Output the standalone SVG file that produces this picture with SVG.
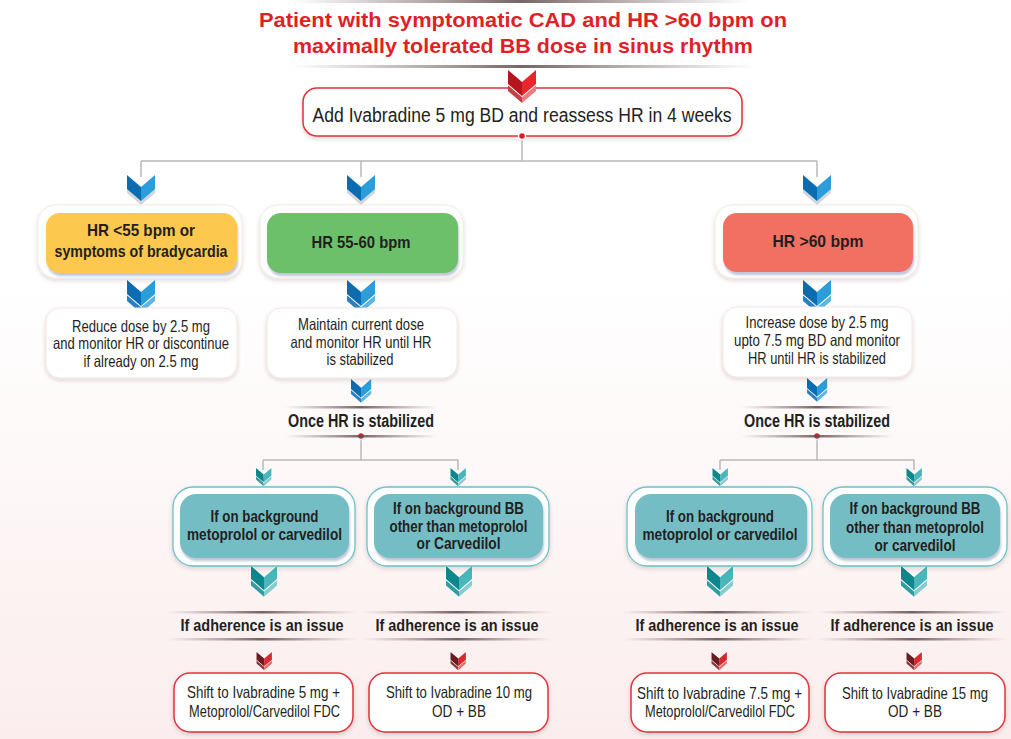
<svg xmlns="http://www.w3.org/2000/svg" width="1011" height="739" viewBox="0 0 1011 739">
<defs>
<linearGradient id="bg" x1="0" y1="0" x2="0" y2="1">
<stop offset="0" stop-color="#ffffff"/>
<stop offset="0.38" stop-color="#ffffff"/>
<stop offset="1" stop-color="#fbeded"/>
</linearGradient>
<linearGradient id="sl" x1="0" y1="0" x2="1" y2="0">
<stop offset="0" stop-color="#7a6262" stop-opacity="0"/>
<stop offset="0.5" stop-color="#5e4a4a" stop-opacity="0.85"/>
<stop offset="1" stop-color="#7a6262" stop-opacity="0"/>
</linearGradient>
<filter id="sh" x="-10%" y="-20%" width="120%" height="150%">
<feDropShadow dx="0" dy="2" stdDeviation="2" flood-color="#602020" flood-opacity="0.18"/>
</filter>
<filter id="sh2" x="-10%" y="-20%" width="120%" height="150%">
<feDropShadow dx="1" dy="3" stdDeviation="1" flood-color="#8a96b8" flood-opacity="0.55"/>
</filter>
<path id="cl" d="M0 0 L14 12 L14 26 L0 14 Z"/>
<path id="cr" d="M14 12 L28 0 L28 14 L14 26 Z"/>
<path id="cf" d="M0 0 L14 12 L28 0 L28 14 L14 26 L0 14 Z"/>
<g id="blue1">
<use href="#cf" y="4" fill="#d3d6dc"/>
<use href="#cl" fill="#0b6cb2"/>
<use href="#cr" fill="#2b9ddb"/>
</g>
<g id="blue2">
<use href="#cl" y="7" fill="#2a7fc2"/>
<use href="#cr" y="7" fill="#5db6e6"/>
<use href="#cf" fill="none" stroke="#fff" stroke-width="2"/>
<use href="#cl" fill="#0b6cb2"/>
<use href="#cr" fill="#2b9ddb"/>
</g>
<g id="red2">
<use href="#cl" y="7" fill="#c84046"/>
<use href="#cr" y="7" fill="#f07a7e"/>
<use href="#cf" fill="none" stroke="#fff" stroke-width="2"/>
<use href="#cl" fill="#b5161d"/>
<use href="#cr" fill="#e8262c"/>
</g>
<g id="teal2">
<use href="#cl" y="7" fill="#2f9ea3"/>
<use href="#cr" y="7" fill="#84ccd0"/>
<use href="#cf" fill="none" stroke="#fff" stroke-width="2"/>
<use href="#cl" fill="#0e878c"/>
<use href="#cr" fill="#4ab6ba"/>
</g>
<g id="dred2">
<use href="#cl" y="7" fill="#8a3a3e"/>
<use href="#cr" y="7" fill="#e86a6e"/>
<use href="#cf" fill="none" stroke="#fff" stroke-width="2"/>
<use href="#cl" fill="#6b1a1f"/>
<use href="#cr" fill="#d6282e"/>
</g>
</defs>
<style>
text{font-family:"Liberation Sans Narrow","Liberation Sans",Arial,sans-serif;fill:#231f20;text-anchor:middle}
.t{font-size:16.5px}
.b{font-size:17px;font-weight:bold}
.bl{font-size:18px;font-weight:bold}
.ti{font-size:21px;font-weight:bold;fill:#e11f26}
.top{font-size:20px}
.halo{fill:#fff;stroke:#f1ece2;stroke-width:1}
.wbox{fill:#fff;stroke:#f3e6e6;stroke-width:1}
.thalo{fill:#fff;stroke:#6cc0c8;stroke-width:1.3}
.teal{fill:#75bdc4}
.rbox{fill:#fff;stroke:#e2323c;stroke-width:1.5}
.conn line{stroke:#b8b8b8;stroke-width:1.5}
.dot{fill:#d7202c;stroke:#fff;stroke-width:1.5}
.sl{fill:url(#sl)}
</style>
<rect x="0" y="0" width="1011" height="739" fill="url(#bg)"/>

<g id="title">
<rect class="sl" x="290" y="0" width="460" height="3"/>
<text class="ti" x="523" y="27" textLength="528" lengthAdjust="spacingAndGlyphs">Patient with symptomatic CAD and HR &gt;60 bpm on</text>
<text class="ti" x="523" y="53" textLength="460" lengthAdjust="spacingAndGlyphs">maximally tolerated BB dose in sinus rhythm</text>
<rect class="sl" x="290" y="65" width="465" height="3"/>
</g>

<g id="n-start">
<rect class="rbox" x="303" y="88" width="439" height="48" rx="14" filter="url(#sh)"/>
<text class="top" x="522" y="122" textLength="419" lengthAdjust="spacingAndGlyphs">Add Ivabradine 5 mg BD and reassess HR in 4 weeks</text>
</g>

<g id="connectors" class="conn">
<line x1="522" y1="136" x2="522" y2="161"/>
<line x1="141" y1="161" x2="817" y2="161"/>
<line x1="141" y1="161" x2="141" y2="177"/>
<line x1="361" y1="161" x2="361" y2="177"/>
<line x1="817" y1="161" x2="817" y2="177"/>
<line x1="361" y1="436" x2="361" y2="460"/>
<line x1="263" y1="460" x2="458" y2="460"/>
<line x1="263" y1="460" x2="263" y2="470"/>
<line x1="458" y1="460" x2="458" y2="470"/>
<line x1="817" y1="436" x2="817" y2="460"/>
<line x1="720" y1="460" x2="914" y2="460"/>
<line x1="720" y1="460" x2="720" y2="470"/>
<line x1="914" y1="460" x2="914" y2="470"/>
<circle class="dot" cx="522" cy="136" r="3.5"/>
<circle class="dot" cx="361" cy="436" r="3.5"/>
<circle class="dot" cx="817" cy="436" r="3.5"/>
<use href="#red2" transform="translate(508,70)"/>
<use href="#blue1" transform="translate(127,175)"/>
<use href="#blue1" transform="translate(347,175)"/>
<use href="#blue1" transform="translate(803,175)"/>
<use href="#blue2" transform="translate(127,280)"/>
<use href="#blue2" transform="translate(347,280)"/>
<use href="#blue2" transform="translate(803,280)"/>
<use href="#blue2" transform="translate(351,379) scale(0.72)"/>
<use href="#blue2" transform="translate(807,378) scale(0.72)"/>
<use href="#teal2" transform="translate(256,468) scale(0.55)"/>
<use href="#teal2" transform="translate(450.5,468) scale(0.55)"/>
<use href="#teal2" transform="translate(712.5,468) scale(0.55)"/>
<use href="#teal2" transform="translate(906.5,468) scale(0.55)"/>
<use href="#teal2" transform="translate(251,566) scale(0.93)"/>
<use href="#teal2" transform="translate(446,566) scale(0.93)"/>
<use href="#teal2" transform="translate(707,566) scale(0.93)"/>
<use href="#teal2" transform="translate(901,566) scale(0.93)"/>
<use href="#dred2" transform="translate(256.5,652) scale(0.55)"/>
<use href="#dred2" transform="translate(450.5,652) scale(0.55)"/>
<use href="#dred2" transform="translate(711.5,652) scale(0.55)"/>
<use href="#dred2" transform="translate(906.5,652) scale(0.55)"/>
</g>

<g id="n-low">
<rect class="halo" x="38" y="205" width="204" height="73" rx="18" filter="url(#sh)"/>
<rect x="46" y="213" width="191" height="60" rx="14" fill="#fcc84e" filter="url(#sh2)"/>
<text class="b" x="141" y="236" textLength="108" lengthAdjust="spacingAndGlyphs">HR &lt;55 bpm or</text>
<text class="b" x="141" y="257" textLength="173" lengthAdjust="spacingAndGlyphs">symptoms of bradycardia</text>
</g>
<g id="n-mid">
<rect class="halo" x="260" y="205" width="203" height="73" rx="18" filter="url(#sh)"/>
<rect x="267" y="213" width="191" height="60" rx="14" fill="#6cc06a" filter="url(#sh2)"/>
<text class="b" x="361" y="248" textLength="99" lengthAdjust="spacingAndGlyphs">HR 55-60 bpm</text>
</g>
<g id="n-high">
<rect class="halo" x="715" y="205" width="203" height="73" rx="18" filter="url(#sh)"/>
<rect x="723" y="213" width="190" height="59" rx="14" fill="#f27062" filter="url(#sh2)"/>
<text class="b" x="818" y="247" textLength="91" lengthAdjust="spacingAndGlyphs">HR &gt;60 bpm</text>
</g>

<g id="n-reduce">
<rect class="wbox" x="46" y="308" width="191" height="70" rx="14" filter="url(#sh)"/>
<text class="t" x="141" y="332" textLength="138" lengthAdjust="spacingAndGlyphs">Reduce dose by 2.5 mg</text>
<text class="t" x="141" y="349" textLength="176" lengthAdjust="spacingAndGlyphs">and monitor HR or discontinue</text>
<text class="t" x="141" y="367" textLength="115" lengthAdjust="spacingAndGlyphs">if already on 2.5 mg</text>
</g>
<g id="n-maintain">
<rect class="wbox" x="267" y="308" width="190" height="70" rx="14" filter="url(#sh)"/>
<text class="t" x="361" y="330" textLength="126" lengthAdjust="spacingAndGlyphs">Maintain current dose</text>
<text class="t" x="361" y="348" textLength="141" lengthAdjust="spacingAndGlyphs">and monitor HR until HR</text>
<text class="t" x="360" y="365" textLength="67" lengthAdjust="spacingAndGlyphs">is stabilized</text>
</g>
<g id="n-increase">
<rect class="wbox" x="723" y="307" width="189" height="70" rx="14" filter="url(#sh)"/>
<text class="t" x="817" y="328" textLength="143" lengthAdjust="spacingAndGlyphs">Increase dose by 2.5 mg</text>
<text class="t" x="817" y="346" textLength="166" lengthAdjust="spacingAndGlyphs">upto 7.5 mg BD and monitor</text>
<text class="t" x="817" y="364" textLength="138" lengthAdjust="spacingAndGlyphs">HR until HR is stabilized</text>
</g>

<g id="n-stab-l">
<rect class="sl" x="285" y="406" width="152" height="2.5"/>
<text class="bl" x="361" y="427" textLength="146" lengthAdjust="spacingAndGlyphs">Once HR is stabilized</text>
<rect class="sl" x="285" y="435" width="152" height="2.5"/>
</g>
<g id="n-stab-r">
<rect class="sl" x="741" y="406" width="152" height="2.5"/>
<text class="bl" x="817" y="427" textLength="146" lengthAdjust="spacingAndGlyphs">Once HR is stabilized</text>
<rect class="sl" x="741" y="435" width="152" height="2.5"/>
</g>

<g id="n-bg1">
<rect class="thalo" x="173" y="487" width="182" height="79" rx="20" filter="url(#sh)"/>
<rect class="teal" x="180" y="494" width="169" height="64" rx="16" filter="url(#sh2)"/>
<text class="b" x="264.5" y="522" textLength="108" lengthAdjust="spacingAndGlyphs">If on background</text>
<text class="b" x="264.5" y="540" textLength="155" lengthAdjust="spacingAndGlyphs">metoprolol or carvedilol</text>
</g>
<g id="n-bg2">
<rect class="thalo" x="367" y="487" width="182" height="79" rx="20" filter="url(#sh)"/>
<rect class="teal" x="374" y="494" width="169" height="64" rx="16" filter="url(#sh2)"/>
<text class="b" x="458.5" y="514" textLength="131" lengthAdjust="spacingAndGlyphs">If on background BB</text>
<text class="b" x="458.5" y="532" textLength="138" lengthAdjust="spacingAndGlyphs">other than metoprolol</text>
<text class="b" x="458.5" y="549" textLength="84" lengthAdjust="spacingAndGlyphs">or Carvedilol</text>
</g>
<g id="n-bg3">
<rect class="thalo" x="627" y="487" width="185" height="79" rx="20" filter="url(#sh)"/>
<rect class="teal" x="635" y="494" width="172" height="64" rx="16" filter="url(#sh2)"/>
<text class="b" x="720" y="522" textLength="108" lengthAdjust="spacingAndGlyphs">If on background</text>
<text class="b" x="720" y="540" textLength="155" lengthAdjust="spacingAndGlyphs">metoprolol or carvedilol</text>
</g>
<g id="n-bg4">
<rect class="thalo" x="823" y="487" width="184" height="79" rx="20" filter="url(#sh)"/>
<rect class="teal" x="830" y="494" width="170" height="64" rx="16" filter="url(#sh2)"/>
<text class="b" x="915" y="514" textLength="131" lengthAdjust="spacingAndGlyphs">If on background BB</text>
<text class="b" x="915" y="533" textLength="138" lengthAdjust="spacingAndGlyphs">other than metoprolol</text>
<text class="b" x="915" y="551" textLength="81" lengthAdjust="spacingAndGlyphs">or carvedilol</text>
</g>

<g id="n-adh1">
<rect class="sl" x="167" y="611" width="190" height="2.5"/>
<text class="b" x="262" y="631" textLength="163" lengthAdjust="spacingAndGlyphs">If adherence is an issue</text>
<rect class="sl" x="167" y="638" width="190" height="2.5"/>
</g>
<g id="n-adh2">
<rect class="sl" x="362" y="611" width="190" height="2.5"/>
<text class="b" x="457" y="631" textLength="163" lengthAdjust="spacingAndGlyphs">If adherence is an issue</text>
<rect class="sl" x="362" y="638" width="190" height="2.5"/>
</g>
<g id="n-adh3">
<rect class="sl" x="622" y="611" width="190" height="2.5"/>
<text class="b" x="717" y="631" textLength="163" lengthAdjust="spacingAndGlyphs">If adherence is an issue</text>
<rect class="sl" x="622" y="638" width="190" height="2.5"/>
</g>
<g id="n-adh4">
<rect class="sl" x="817" y="611" width="190" height="2.5"/>
<text class="b" x="912" y="631" textLength="163" lengthAdjust="spacingAndGlyphs">If adherence is an issue</text>
<rect class="sl" x="817" y="638" width="190" height="2.5"/>
</g>

<g id="n-shift1">
<rect class="rbox" x="174" y="673" width="179" height="59" rx="16" filter="url(#sh)"/>
<text class="t" x="263.5" y="698" textLength="153" lengthAdjust="spacingAndGlyphs">Shift to Ivabradine 5 mg +</text>
<text class="t" x="264.5" y="717" textLength="151" lengthAdjust="spacingAndGlyphs">Metoprolol/Carvedilol FDC</text>
</g>
<g id="n-shift2">
<rect class="rbox" x="369" y="673" width="179" height="59" rx="16" filter="url(#sh)"/>
<text class="t" x="459" y="698" textLength="146" lengthAdjust="spacingAndGlyphs">Shift to Ivabradine 10 mg</text>
<text class="t" x="459" y="717" textLength="54" lengthAdjust="spacingAndGlyphs">OD + BB</text>
</g>
<g id="n-shift3">
<rect class="rbox" x="631" y="673" width="178" height="59" rx="16" filter="url(#sh)"/>
<text class="t" x="719.5" y="699" textLength="165" lengthAdjust="spacingAndGlyphs">Shift to Ivabradine 7.5 mg +</text>
<text class="t" x="720" y="717" textLength="150" lengthAdjust="spacingAndGlyphs">Metoprolol/Carvedilol FDC</text>
</g>
<g id="n-shift4">
<rect class="rbox" x="825" y="673" width="180" height="59" rx="16" filter="url(#sh)"/>
<text class="t" x="915" y="699" textLength="146" lengthAdjust="spacingAndGlyphs">Shift to Ivabradine 15 mg</text>
<text class="t" x="915" y="717" textLength="54" lengthAdjust="spacingAndGlyphs">OD + BB</text>
</g>
</svg>
